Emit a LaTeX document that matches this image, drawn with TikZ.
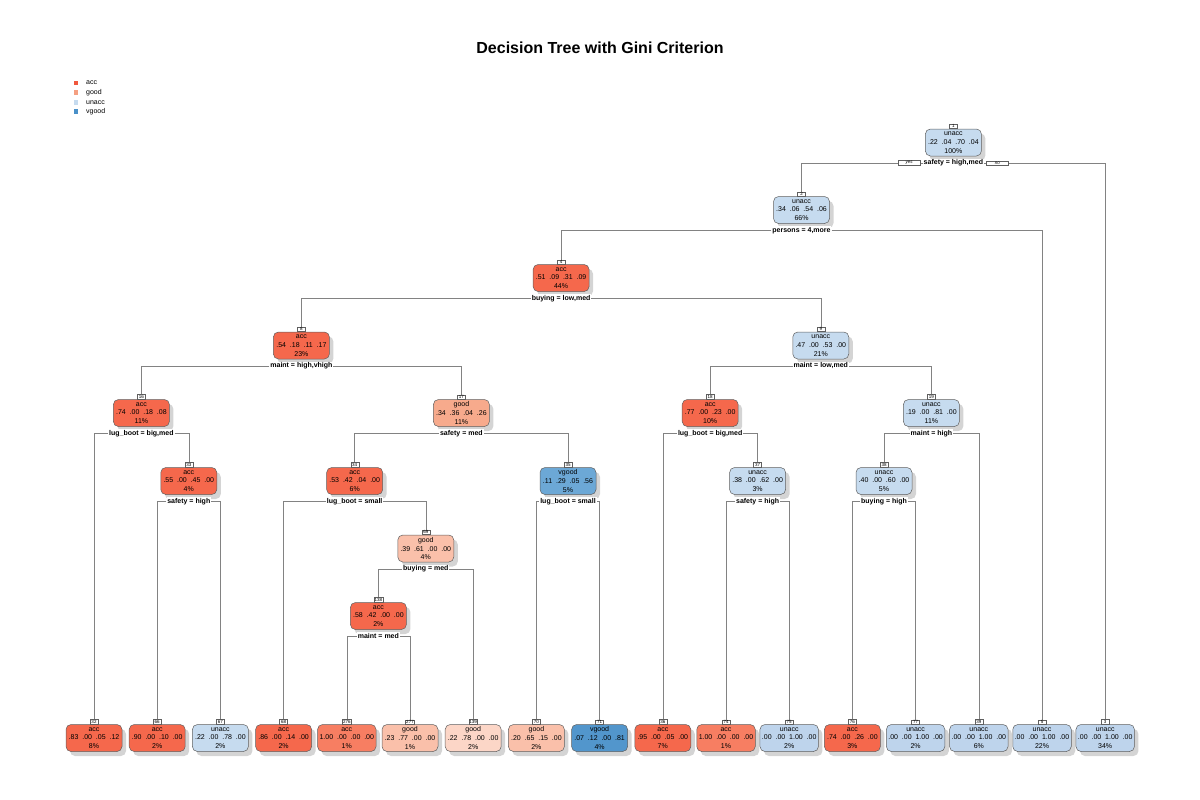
\documentclass[tikz,border=0pt]{standalone}
\usepackage{fontspec}
\setmainfont{Liberation Sans}
\usetikzlibrary{positioning,shadows,backgrounds}
\definecolor{accfill}{RGB}{245,104,76}
\definecolor{accpure}{RGB}{247,126,98}
\definecolor{goodmid}{RGB}{247,170,140}
\definecolor{goodlite}{RGB}{250,192,170}
\definecolor{goodpale}{RGB}{252,214,199}
\definecolor{unaccfill}{RGB}{198,219,239}
\definecolor{unaccpure}{RGB}{190,212,236}
\definecolor{vgoodmid}{RGB}{108,168,214}
\definecolor{vgooddark}{RGB}{82,150,204}
\definecolor{legacc}{RGB}{240,88,62}
\definecolor{leggood}{RGB}{245,160,130}
\definecolor{legunacc}{RGB}{198,219,239}
\definecolor{legvgood}{RGB}{74,144,200}
\definecolor{boxborder}{RGB}{95,95,95}
\definecolor{edgegray}{RGB}{130,130,130}
\definecolor{shadowgray}{RGB}{170,170,170}

\begin{document}
\begin{tikzpicture}[x=1pt,y=-1pt]
\tikzset{box/.style={draw=boxborder,line width=0.5pt,rounded corners=5pt,minimum width=56pt,minimum height=27pt,inner xsep=2pt,inner ysep=0pt,align=center,font=\fontsize{7}{8.7}\selectfont,drop shadow={shadow xshift=4pt,shadow yshift=-4.5pt,fill=shadowgray}}}
\tikzset{tag/.style={draw=boxborder,line width=0.4pt,fill=white,inner sep=0.6pt,minimum width=8pt,font=\fontsize{4.5}{4.5}\selectfont}}
\tikzset{split/.style={fill=white,inner sep=0.8pt,font=\fontsize{7}{7}\selectfont\bfseries}}
\tikzset{yesno/.style={draw=boxborder,line width=0.4pt,fill=white,inner sep=0.7pt,minimum width=22pt,font=\fontsize{4.5}{4.5}\selectfont\itshape}}
\tikzset{edge/.style={draw=edgegray,line width=0.5pt}}
\tikzset{legsq/.style={fill=#1,minimum size=4.5pt,inner sep=0pt}}
\tikzset{legtext/.style={font=\fontsize{7}{7}\selectfont,inner sep=0pt,anchor=west}}

\useasboundingbox (0,0) rectangle (1200,800);

\node[font=\fontsize{16}{16}\selectfont\bfseries] (title) at (600,48) {Decision Tree with Gini Criterion};

\node[legsq=legacc] (la) at (76,83) {};
\node[legsq=leggood] (lg) at (76,92.7) {};
\node[legsq=legunacc] (lu) at (76,102.3) {};
\node[legsq=legvgood] (lv) at (76,111.7) {};
\node[legtext] at (86,83) {acc};
\node[legtext] at (86,92.7) {good};
\node[legtext] at (86,102.3) {unacc};
\node[legtext] at (86,111.7) {vgood};

% internal nodes
\node[box,fill=unaccfill] (n1) at (953.4,142.5) {unacc\\.22~~.04~~.70~~.04\\100\%};
\node[box,fill=unaccfill] (n2) at (801.5,210) {unacc\\.34~~.06~~.54~~.06\\66\%};
\node[box,fill=accfill] (n4) at (561.1,278) {acc\\.51~~.09~~.31~~.09\\44\%};
\node[box,fill=accfill] (n8) at (301.4,345.5) {acc\\.54~~.18~~.11~~.17\\23\%};
\node[box,fill=unaccfill] (n9) at (820.8,345.5) {unacc\\.47~~.00~~.53~~.00\\21\%};
\node[box,fill=accfill] (n16) at (141.4,413) {acc\\.74~~.00~~.18~~.08\\11\%};
\node[box,fill=goodmid] (n17) at (461.4,413) {good\\.34~~.36~~.04~~.26\\11\%};
\node[box,fill=accfill] (n18) at (710.2,413) {acc\\.77~~.00~~.23~~.00\\10\%};
\node[box,fill=unaccfill] (n19) at (931.4,413) {unacc\\.19~~.00~~.81~~.00\\11\%};
\node[box,fill=accfill] (n33) at (188.8,481) {acc\\.55~~.00~~.45~~.00\\4\%};
\node[box,fill=accfill] (n34) at (354.7,481) {acc\\.53~~.42~~.04~~.00\\6\%};
\node[box,fill=vgoodmid] (n35) at (568,481) {vgood\\.11~~.29~~.05~~.56\\5\%};
\node[box,fill=unaccfill] (n37) at (757.6,481) {unacc\\.38~~.00~~.62~~.00\\3\%};
\node[box,fill=unaccfill] (n38) at (884,481) {unacc\\.40~~.00~~.60~~.00\\5\%};
\node[box,fill=goodlite] (n69) at (425.8,548.5) {good\\.39~~.61~~.00~~.00\\4\%};
\node[box,fill=accfill] (n138) at (378.4,616) {acc\\.58~~.42~~.00~~.00\\2\%};

% leaves
\node[box,fill=accfill] (n32) at (94,738) {acc\\.83~~.00~~.05~~.12\\8\%};
\node[box,fill=accfill] (n66) at (157.2,738) {acc\\.90~~.00~~.10~~.00\\2\%};
\node[box,fill=unaccfill] (n67) at (220.4,738) {unacc\\.22~~.00~~.78~~.00\\2\%};
\node[box,fill=accfill] (n68) at (283.6,738) {acc\\.86~~.00~~.14~~.00\\2\%};
\node[box,fill=accpure] (n276) at (346.8,738) {acc\\1.00~~.00~~.00~~.00\\1\%};
\node[box,fill=goodlite] (n277) at (410,738) {good\\.23~~.77~~.00~~.00\\1\%};
\node[box,fill=goodpale] (n139) at (473.2,738) {good\\.22~~.78~~.00~~.00\\2\%};
\node[box,fill=goodlite] (n70) at (536.4,738) {good\\.20~~.65~~.15~~.00\\2\%};
\node[box,fill=vgooddark] (n71) at (599.6,738) {vgood\\.07~~.12~~.00~~.81\\4\%};
\node[box,fill=accfill] (n36) at (662.8,738) {acc\\.95~~.00~~.05~~.00\\7\%};
\node[box,fill=accpure] (n74) at (726,738) {acc\\1.00~~.00~~.00~~.00\\1\%};
\node[box,fill=unaccpure] (n75) at (789.2,738) {unacc\\.00~~.00~~1.00~~.00\\2\%};
\node[box,fill=accfill] (n76) at (852.4,738) {acc\\.74~~.00~~.26~~.00\\3\%};
\node[box,fill=unaccpure] (n77) at (915.6,738) {unacc\\.00~~.00~~1.00~~.00\\2\%};
\node[box,fill=unaccpure] (n39) at (978.8,738) {unacc\\.00~~.00~~1.00~~.00\\6\%};
\node[box,fill=unaccpure] (n5) at (1042,738) {unacc\\.00~~.00~~1.00~~.00\\22\%};
\node[box,fill=unaccpure] (n3) at (1105.2,738) {unacc\\.00~~.00~~1.00~~.00\\34\%};

% number tags
\foreach \k in {1,2,3,4,5,8,9,16,17,18,19,32,33,34,35,36,37,38,39,66,67,68,69,70,71,74,75,76,77,138,139,276,277}
  \node[tag,above=0pt of n\k] (k\k) {\k};

% split labels
\node[split,below=2.5pt of n1] (s1) {safety = high,med};
\node[split,below=2.5pt of n2] (s2) {persons = 4,more};
\node[split,below=2.5pt of n4] (s4) {buying = low,med};
\node[split,below=2.5pt of n8] (s8) {maint = high,vhigh};
\node[split,below=2.5pt of n9] (s9) {maint = low,med};
\node[split,below=2.5pt of n16] (s16) {lug\_boot = big,med};
\node[split,below=2.5pt of n17] (s17) {safety = med};
\node[split,below=2.5pt of n18] (s18) {lug\_boot = big,med};
\node[split,below=2.5pt of n19] (s19) {maint = high};
\node[split,below=2.5pt of n33] (s33) {safety = high};
\node[split,below=2.5pt of n34] (s34) {lug\_boot = small};
\node[split,below=2.5pt of n35] (s35) {lug\_boot = small};
\node[split,below=2.5pt of n37] (s37) {safety = high};
\node[split,below=2.5pt of n38] (s38) {buying = high};
\node[split,below=2.5pt of n69] (s69) {buying = med};
\node[split,below=2.5pt of n138] (s138) {maint = med};

\node[yesno,left=2.5pt of s1] (yes) {yes};
\node[yesno,right=2pt of s1] (no) {no};

\begin{scope}[on background layer]
\foreach \p/\a/\b in {1/2/3,2/4/5,4/8/9,8/16/17,9/18/19,16/32/33,17/34/35,18/36/37,19/38/39,33/66/67,34/68/69,35/70/71,37/74/75,38/76/77,69/138/139,138/276/277}{
  \draw[edge] (s\p.west) -| (k\a.north);
  \draw[edge] (s\p.east) -| (k\b.north);
}
\end{scope}

\end{tikzpicture}
\end{document}
